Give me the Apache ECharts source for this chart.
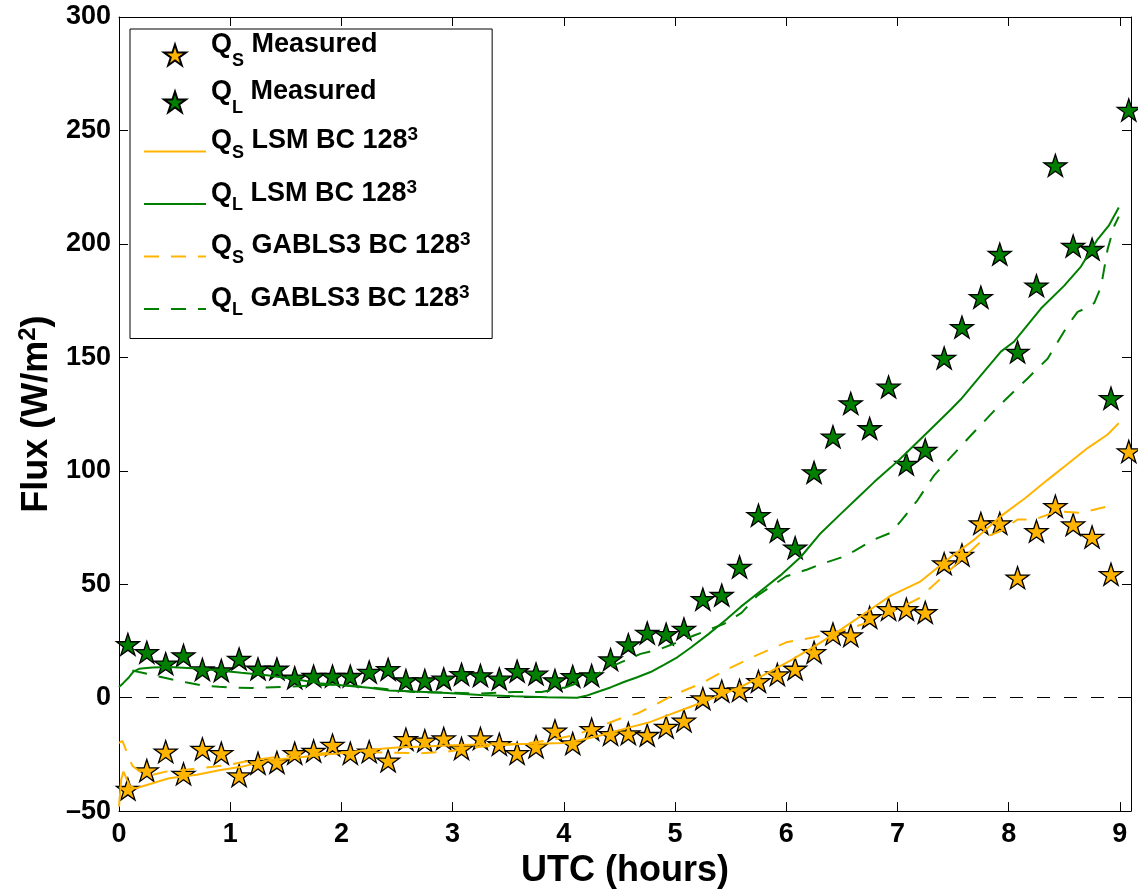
<!DOCTYPE html>
<html>
<head>
<meta charset="utf-8">
<script src="https://cdn.jsdelivr.net/npm/echarts@6/dist/echarts.min.js"></script>
<style>
html,body{margin:0;padding:0;background:#fff;}
#chart{width:1138px;height:894px;}
</style>
</head>
<body>
<div id="chart"></div>
<script>
// ---------------- data ----------------
const tMeas = [0.08,0.25,0.42,0.58,0.75,0.92,1.08,1.25,1.42,1.58,1.75,1.92,2.08,2.25,2.42,2.58,2.75,2.92,3.08,3.25,3.42,3.58,3.75,3.92,4.08,4.25,4.42,4.58,4.75,4.92,5.08,5.25,5.42,5.58,5.75,5.92,6.08,6.25,6.42,6.58,6.75,6.92,7.08,7.25,7.42,7.58,7.75,7.92,8.08,8.25,8.42,8.58,8.75,8.92,9.08];
const qsMeas = [-40.3,-32.1,-23.8,-33.6,-22.6,-24.5,-34.3,-28.9,-28.5,-24.5,-23.5,-20.9,-24.5,-23.8,-27.8,-18.3,-19,-18,-22.4,-18,-20.5,-24.5,-21.6,-14.6,-20.2,-13.9,-16.1,-15.8,-16.5,-12.9,-10.2,-0.4,2.9,3.2,7.2,10.2,12.7,20,28.1,27.4,35.4,39,39,37.6,59.1,62.9,76.8,76.8,52.9,73.4,84.4,76.3,70.8,54.4,108.5];
const qlMeas = [23.5,20,15,18.6,12.4,12,17.1,12.7,12.7,8.8,9.5,9.5,9.5,11.3,12.5,7.6,7.6,8.3,10.3,9.8,8.3,11.7,10.5,7.6,9.4,9.8,16.8,23.4,28.5,28,30.3,43.4,45.2,57.6,80.4,73.4,66.1,99.3,115,129.7,118.7,137,103,109.2,149.7,163.3,176.5,195.5,152.4,181.6,234.6,199.1,197.7,132,259];

const qsLsmX = [0,0.02,0.04,0.07,0.1,0.15,0.25,0.45,0.7,0.9,1.1,1.35,1.6,1.8,2.0,2.25,2.5,2.75,3.0,3.25,3.5,3.75,4.0,4.15,4.3,4.45,4.6,4.78,4.95,5.14,5.35,5.59,5.8,6.04,6.25,6.49,6.7,6.94,7.2,7.48,7.7,7.93,8.15,8.35,8.53,8.71,8.89,8.99];
const qsLsmY = [-48,-36,-32.6,-36,-39,-40,-38.5,-35.5,-34,-32,-30.5,-27.5,-26.5,-25.3,-24.5,-23,-22,-21.5,-21,-20.7,-20.5,-20.3,-20,-18.7,-17,-15,-13,-10.7,-7.5,-4,0,4.7,10,16.4,22.5,30,37,45,51,62,70,80,88,96,103,110,116,121];

const qlLsmX = [0,0.04,0.09,0.13,0.18,0.3,0.45,0.7,0.9,1.1,1.35,1.6,1.8,2.0,2.25,2.43,2.7,2.95,3.25,3.55,3.85,4.12,4.2,4.3,4.42,4.54,4.66,4.78,4.9,5.02,5.14,5.3,5.45,5.59,5.77,5.95,6.13,6.3,6.49,6.64,6.79,6.94,7.03,7.25,7.48,7.57,7.75,7.93,8.05,8.29,8.5,8.65,8.8,8.9,8.99];
const qlLsmY = [4.7,6.5,9,11.5,12.7,13.3,13.5,12.8,12,11,9.8,8,6.4,5.5,4.4,3.2,2.6,2,1.2,0.6,0.2,0,0.8,2.5,4.5,6.9,9,11.3,14.5,17.8,22,28,34,40,47,54,62,72,81,88,95,101.5,105.5,116,127,131.5,142,152.5,157,171.5,181.6,190,202,208,216];

const qsGabX = [0,0.03,0.07,0.12,0.2,0.3,0.42,0.6,0.75,1.0,1.2,1.45,1.65,1.9,2.1,2.4,2.7,2.95,3.25,3.5,3.7,3.9,4.09,4.25,4.39,4.52,4.66,4.84,5.0,5.23,5.45,5.71,6.0,6.25,6.49,6.79,7.0,7.2,7.4,7.6,7.8,7.93,8.08,8.23,8.44,8.65,8.83,8.97];
const qsGabY = [-20,-19,-24,-30,-33,-34,-32.6,-31.8,-31,-29.5,-27.5,-26,-25,-24.3,-24,-24.2,-24.5,-23.8,-21.6,-20.8,-19.9,-18.5,-16.5,-14,-11.4,-9,-7,-2.6,1.5,6.1,12,18.2,24.4,26.6,29.3,34,39,44,53,62,71,73.4,78.5,78.5,82.2,81.4,83.6,85];

const qlGabX = [0.12,0.18,0.3,0.45,0.6,0.75,0.9,1.05,1.2,1.5,1.8,1.95,2.1,2.4,2.65,2.95,3.25,3.55,3.8,4.01,4.15,4.3,4.45,4.69,4.87,5.0,5.17,5.44,5.6,5.74,6.0,6.19,6.31,6.49,6.61,6.79,6.94,7.03,7.18,7.33,7.48,7.63,7.9,8.17,8.35,8.53,8.62,8.71,8.77,8.83,8.89,8.95,8.99];
const qlGabY = [12,11.3,10,8.3,6.8,5.4,4.8,4.4,4.3,4.8,5.5,5.8,5.2,3.8,2.5,2.2,1.8,2.5,2.5,4.5,6.9,10.5,14.2,19.3,21.5,24,27.4,32.5,37.5,45,53.5,56.5,58.8,61.7,64.6,69.7,72.7,77.8,87,98,106,114,128,140.7,149.4,164,170,172,174,181,197.7,208,212];

const seriesNames = ['QS Measured','QL Measured','QS LSM','QL LSM','QS GABLS3','QL GABLS3'];
const legendLabels = [
  '{qm|Q}{sm|S} {qm|Measured}',
  '{qm|Q}{sm|L} {qm|Measured}',
  '{q|Q}{s|S} {q|LSM BC 128}{p|3}{z|\u00a0}',
  '{q|Q}{s|L} {q|LSM BC 128}{p|3}{z|\u00a0}',
  '{q|Q}{s|S} {q|GABLS3 BC 128}{p|3}{z|\u00a0}',
  '{q|Q}{s|L} {q|GABLS3 BC 128}{p|3}{z|\u00a0}'
];
const xAxisTitle = 'UTC (hours)';
const yAxisTitle = 'Flux (W/m{sup|2})';

// ---------------- styling ----------------
const FONT = '"Liberation Sans", Arial, Helvetica, sans-serif';
const ORANGE = '#FFB400';
const GREEN = '#007F00';
const STAR = 'path://M0,-10L2.245,-3.09L9.511,-3.09L3.633,1.18L5.878,8.09L0,3.82L-5.878,8.09L-3.633,1.18L-9.511,-3.09L-2.245,-3.09Z';

function zip(xs, ys){ return xs.map((x,i)=>[x, ys[i]]); }

const chart = echarts.init(document.getElementById('chart'), null, {renderer:'canvas'});

const axisCommon = {
  type:'value',
  axisLine:{show:true, onZero:false, lineStyle:{color:'#000', width:1}},
  axisTick:{show:true, inside:true, length:9, lineStyle:{color:'#000', width:1}},
  splitLine:{show:false}
};

const xFmt = v => (Math.abs(v - Math.round(v)) < 1e-9 ? String(Math.round(v)) : '');
const yFmt = v => (v < 0 ? '\u2013' + Math.abs(v) : String(v));

const tok = (size, extra) => Object.assign({fontFamily:FONT, fontWeight:'bold', fontSize:size, color:'#000'}, extra);

const legendData = seriesNames.map((n, i) => i < 2 ? {name:n} : {name:n, itemStyle:{opacity:0}});

const option = {
  animation:false,
  backgroundColor:'#fff',
  grid:{left:119, right:7, top:17, bottom:79, show:false},
  legend:{
    orient:'vertical', left:130, top:29,
    padding:[2.5,14,11.5,13],
    itemGap:8.5, itemWidth:62, itemHeight:21,
    backgroundColor:'#fff', borderColor:'#000', borderWidth:1, borderRadius:0,
    selectedMode:false,
    data:legendData,
    formatter: name => legendLabels[seriesNames.indexOf(name)],
    textStyle:{
      fontFamily:FONT, fontWeight:'bold', fontSize:27, color:'#000',
      rich:{
        qm:tok(27, {padding:[0,0,20,0]}),
        sm:tok(18, {padding:[12,0,0,0]}),
        q:tok(27, {padding:[2,0,23,0]}),
        s:tok(18, {padding:[3,0,0,0]}),
        p:tok(19, {verticalAlign:'top'}),
        z:tok(27, {padding:[9,0,0,0]})
      }
    }
  },
  xAxis:[
    Object.assign({}, axisCommon, {
      position:'bottom', min:0, max:9.1, interval:1,
      name:xAxisTitle, nameLocation:'middle', nameGap:38,
      nameTextStyle:{fontFamily:FONT, fontWeight:'bold', fontSize:36, color:'#000'},
      axisLabel:{show:true, formatter:xFmt, margin:10, showMaxLabel:false,
        fontFamily:FONT, fontWeight:'bold', fontSize:27, color:'#000'}
    }),
    Object.assign({}, axisCommon, {
      position:'top', min:0, max:9.1, interval:1,
      axisLabel:{show:false}
    })
  ],
  yAxis:[
    Object.assign({}, axisCommon, {
      position:'left', min:-50, max:300, interval:50,
      name:yAxisTitle, nameLocation:'middle', nameGap:60, nameRotate:90,
      nameTextStyle:{fontFamily:FONT, fontWeight:'bold', fontSize:36, color:'#000',
        rich:{sup:tok(24, {padding:[0,0,18,0]})}},
      axisLabel:{show:true, formatter:yFmt, margin:8,
        fontFamily:FONT, fontWeight:'bold', fontSize:27, color:'#000'}
    }),
    Object.assign({}, axisCommon, {
      position:'right', min:-50, max:300, interval:50,
      axisLabel:{show:false}
    })
  ],
  series:[
    {
      name:seriesNames[0], type:'scatter', z:2,
      data:zip(tMeas, qsMeas),
      symbol:STAR, symbolSize:[23,22], clip:false,
      itemStyle:{color:ORANGE, borderColor:'#000', borderWidth:1.3, opacity:1},
      markLine:{
        silent:true, symbol:['none','none'], label:{show:false}, z:1,
        lineStyle:{color:'#000', type:[13,14], width:1},
        emphasis:{disabled:true},
        data:[{yAxis:0}]
      }
    },
    {
      name:seriesNames[1], type:'scatter', z:2,
      data:zip(tMeas, qlMeas),
      symbol:STAR, symbolSize:[23,22], clip:false,
      itemStyle:{color:GREEN, borderColor:'#000', borderWidth:1.3, opacity:1}
    },
    {
      name:seriesNames[2], type:'line', z:3,
      data:zip(qsLsmX, qsLsmY), symbol:'none', showSymbol:false,
      lineStyle:{color:ORANGE, width:2, type:'solid'}, itemStyle:{color:ORANGE}
    },
    {
      name:seriesNames[3], type:'line', z:3,
      data:zip(qlLsmX, qlLsmY), symbol:'none', showSymbol:false,
      lineStyle:{color:GREEN, width:2, type:'solid'}, itemStyle:{color:GREEN}
    },
    {
      name:seriesNames[4], type:'line', z:3,
      data:zip(qsGabX, qsGabY), symbol:'none', showSymbol:false,
      lineStyle:{color:ORANGE, width:2, type:[15,12]}, itemStyle:{color:ORANGE}
    },
    {
      name:seriesNames[5], type:'line', z:3,
      data:zip(qlGabX, qlGabY), symbol:'none', showSymbol:false,
      lineStyle:{color:GREEN, width:2, type:[15,12]}, itemStyle:{color:GREEN}
    }
  ]
};
chart.setOption(option);
</script>
</body>
</html>
